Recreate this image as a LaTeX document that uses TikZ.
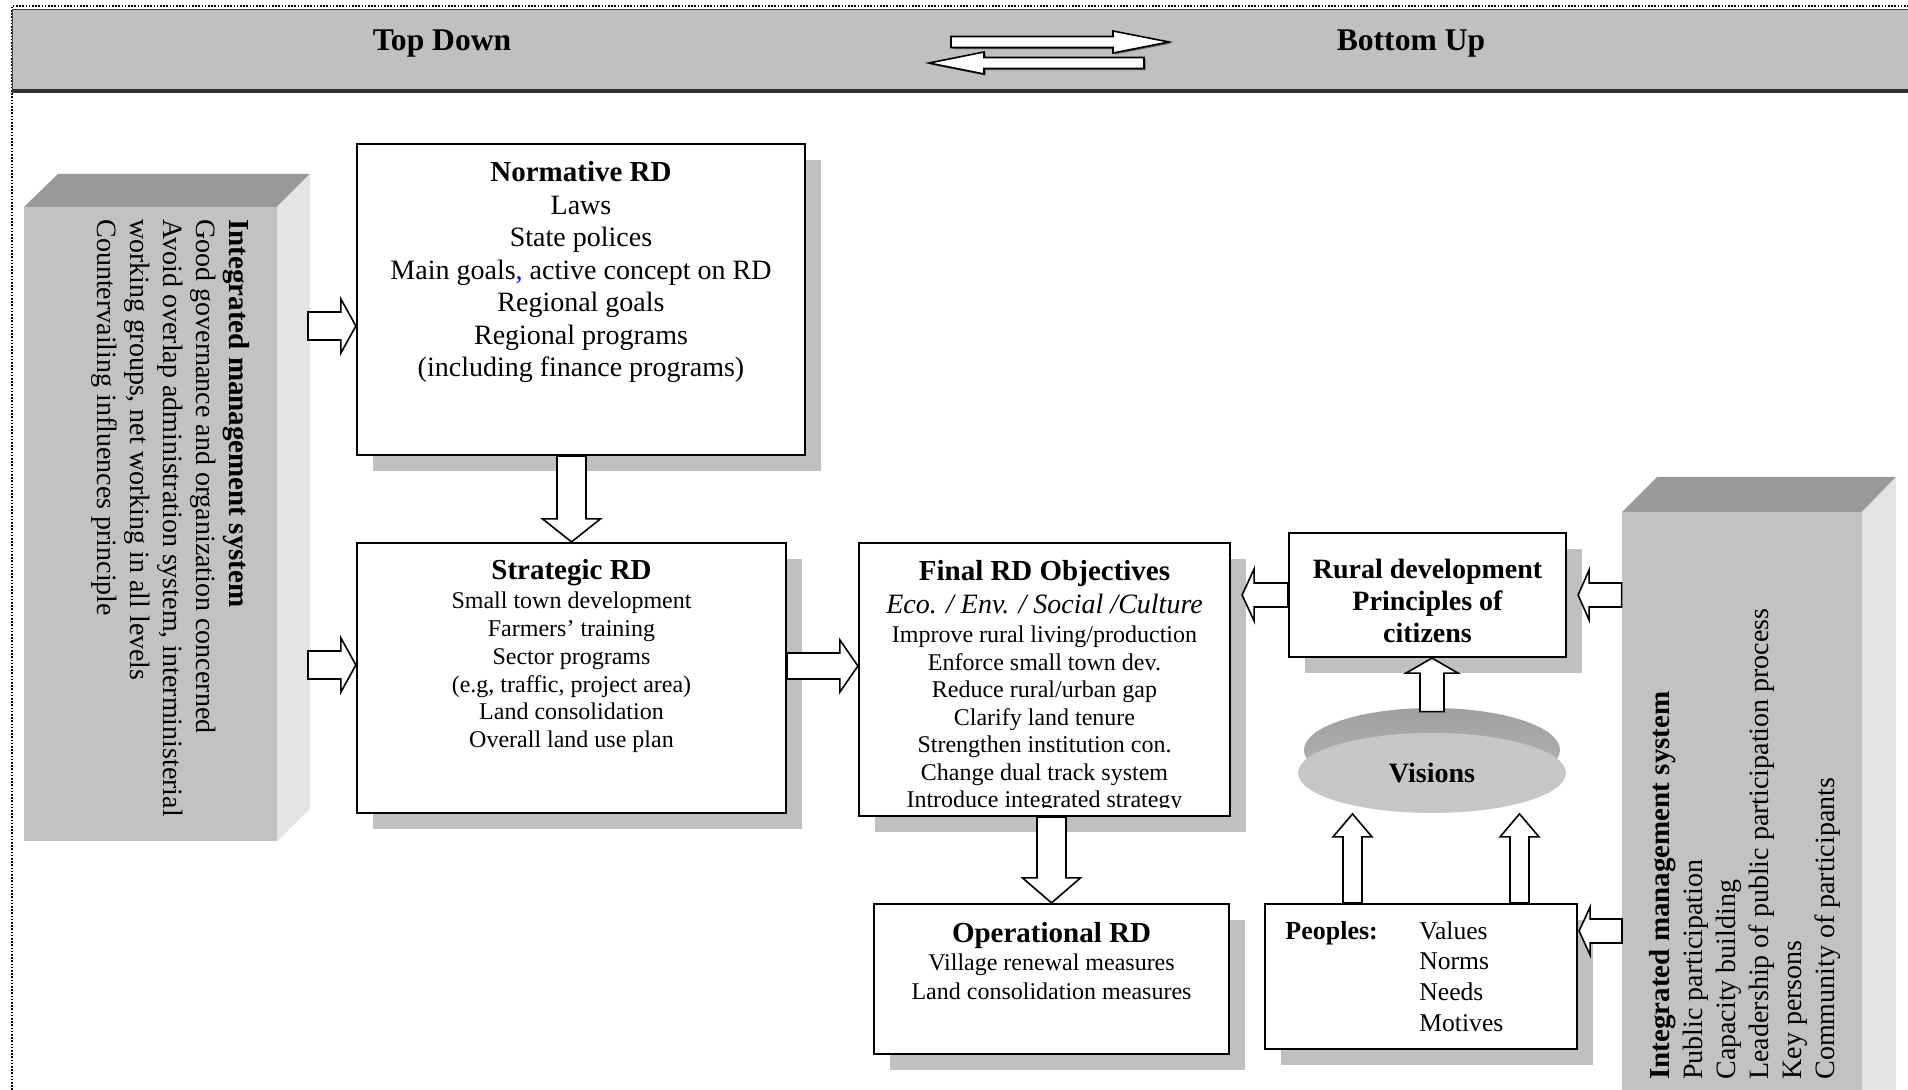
\documentclass[tikz,border=0pt]{standalone}
\usepackage{fontspec}
\setmainfont{Liberation Serif}
\usetikzlibrary{calc,shapes.geometric,shadows}

\definecolor{bandgray}{HTML}{C0C0C0}
\definecolor{shadowgray}{HTML}{C0C0C0}
\definecolor{frontgray}{HTML}{C2C2C2}
\definecolor{topgray}{HTML}{999999}
\definecolor{sidegray}{HTML}{E3E3E3}
\definecolor{rimdark}{HTML}{A0A0A0}
\definecolor{rimlight}{HTML}{B6B6B6}
\definecolor{discface}{HTML}{C7C7C7}

\tikzset{
  rdbox/.style={draw=black, line width=1.1pt, fill=white, inner sep=0pt,
    drop shadow={shadow xshift=8pt, shadow yshift=-8pt, fill=shadowgray, opacity=1}},
  barrow/.style={draw=black, line width=0.8pt, fill=white, line join=miter, miter limit=20},
  hdrshadow/.style={drop shadow={shadow xshift=0.8pt, shadow yshift=-0.8pt, fill=black!60, opacity=1}},
  boxtext/.style={anchor=north, align=center, inner sep=0pt},
  sidetext/.style={align=left, inner sep=0pt, font=\fontsize{14}{16.5}\selectfont},
  facebox/.style={fill=frontgray, inner sep=0pt},
}

% block arrow: [style]{from}{to}{dx}{dy}{body half width}{head half width}{head length}
\newcommand\blockarrow[8][]{%
  \draw[barrow,#1]
    ($(#2)+({-(#6)*(#5)},{(#6)*(#4)})$) --
    ($(#3)+({-(#8)*(#4)-(#6)*(#5)},{-(#8)*(#5)+(#6)*(#4)})$) --
    ($(#3)+({-(#8)*(#4)-(#7)*(#5)},{-(#8)*(#5)+(#7)*(#4)})$) --
    (#3) --
    ($(#3)+({-(#8)*(#4)+(#7)*(#5)},{-(#8)*(#5)-(#7)*(#4)})$) --
    ($(#3)+({-(#8)*(#4)+(#6)*(#5)},{-(#8)*(#5)-(#6)*(#4)})$) --
    ($(#2)+({(#6)*(#5)},{-(#6)*(#4)})$) -- cycle;}

\begin{document}
\begin{tikzpicture}[x=0.5pt, y=-0.5pt]
\useasboundingbox (0,0) rectangle (1908,1090);
\fill[white] (0,0) rectangle (1908,1090);

% dotted page frame
\draw[line width=0.7pt, dash pattern=on 0.8pt off 0.8pt] (12,1090) -- (12,6) -- (1908,6);

% header band
\fill[bandgray] (12,10) rectangle (1908,91);
\draw[line width=0.5pt, black!75] (12,91) -- (12,10) -- (1908,10);
\draw[line width=1.6pt, black!80] (12,91) -- (1908,91);
\node[font=\fontsize{15.8}{18}\selectfont\bfseries] (topdown) at (442,44) {Top Down};
\node[font=\fontsize{15.8}{18}\selectfont\bfseries] (bottomup) at (1411,44) {Bottom Up};
\coordinate (tdA) at (951,42);  \coordinate (tdB) at (1169,42);
\coordinate (buA) at (1144,63); \coordinate (buB) at (929,63);
\blockarrow[hdrshadow]{tdA}{tdB}{1}{0}{5.5}{11}{56}
\blockarrow[hdrshadow]{buA}{buB}{-1}{0}{5.5}{11}{55}

% left management block
\fill[topgray] (24,207) -- (58,174) -- (310,174) -- (277,207) -- cycle;
\fill[sidegray] (277,207) -- (310,174) -- (310,809) -- (277,841) -- cycle;
\node[facebox, minimum width=126.5pt, minimum height=317pt] (lbox) at (150.5,524) {};
\node[sidetext, rotate=-90, anchor=north west] (ltext) at (250,219)
  {{\fontsize{14.5}{16.5}\selectfont\bfseries Integrated management system}\\
   Good governance and organization concerned\\
   Avoid overlap administration system, interministerial\\
   working groups, net working in all levels\\
   Countervailing influences principle};

% right management block
\fill[topgray] (1622,512) -- (1657,477) -- (1896,477) -- (1862,512) -- cycle;
\fill[sidegray] (1862,512) -- (1896,477) -- (1896,1090) -- (1862,1090) -- cycle;
\node[facebox, minimum width=120pt, minimum height=289pt] (rbox) at (1742,801) {};
\node[sidetext, rotate=90, anchor=north west] (rtext) at (1649,1080)
  {{\fontsize{14.5}{16.5}\selectfont\bfseries Integrated management system}\\
   Public participation\\
   Capacity building\\
   Leadership of public participation process\\
   Key persons\\
   Community of participants};

% boxes
\node[rdbox, minimum width=224pt, minimum height=155.5pt] (norm) at (581,299.5) {};
\node[rdbox, minimum width=214.5pt, minimum height=135pt] (strat) at (571.5,678) {};
\node[rdbox, minimum width=185.5pt, minimum height=136.5pt] (final) at (1044.5,679.5) {};
\node[rdbox, minimum width=177.5pt, minimum height=75pt] (oper) at (1051.5,979) {};
\node[rdbox, minimum width=138.5pt, minimum height=62pt] (rural) at (1427.5,595) {};
\node[rdbox, minimum width=156pt, minimum height=72.5pt] (peop) at (1421,976.5) {};

% box texts
\node[boxtext, font=\fontsize{14}{16.25}\selectfont] (normtext) at (581,161)
  {{\fontsize{14.5}{16.25}\selectfont\bfseries Normative RD}\\
   Laws\\
   State polices\\
   Main goals\textcolor{blue}{,} active concept on RD\\
   Regional goals\\
   Regional programs\\
   (including finance programs)};

\node[boxtext, font=\fontsize{12}{13.9}\selectfont] (strattext) at (571.5,559)
  {{\fontsize{14.5}{16}\selectfont\bfseries Strategic RD}\\[0.7pt]
   Small town development\\
   Farmers’ training\\
   Sector programs\\
   (e.g, traffic, project area)\\
   Land consolidation\\
   Overall land use plan};

\begin{scope}
  \clip (final.north west) rectangle ($(final.south east)+(0,-10)$);
  \node[boxtext, font=\fontsize{12}{13.75}\selectfont] (finaltext) at (1044.5,560)
    {{\fontsize{14.5}{16}\selectfont\bfseries Final RD Objectives}\\[2.5pt]
     {\fontsize{14}{16}\selectfont\itshape Eco. / Env. / Social /Culture}\\[1pt]
     Improve rural living/production\\
     Enforce small town dev.\\
     Reduce rural/urban gap\\
     Clarify land tenure\\
     Strengthen institution con.\\
     Change dual track system\\
     Introduce integrated strategy};
\end{scope}

\node[boxtext, font=\fontsize{12}{14.75}\selectfont] (opertext) at (1051.5,922)
  {{\fontsize{14.5}{16}\selectfont\bfseries Operational RD}\\[-1pt]
   Village renewal measures\\
   Land consolidation measures};

\node[boxtext, font=\fontsize{14}{16}\selectfont\bfseries] (ruraltext) at (1427.5,559)
  {Rural development\\ Principles of\\ citizens};

\node[anchor=north west, inner sep=0pt, font=\fontsize{13}{15.4}\selectfont\bfseries] (peoplabel) at (1285,921) {Peoples:};
\node[anchor=north west, align=left, inner sep=0pt, font=\fontsize{12.8}{15.4}\selectfont] (peoplist) at (1419,921)
  {Values\\ Norms\\ Needs\\ Motives};

% visions disc: bevelled upper rim, then the flat face
\shade[top color=rimdark, bottom color=rimlight] (1432,750) ellipse [x radius=128, y radius=42];
\node[ellipse, fill=discface, inner sep=0pt, minimum width=134pt, minimum height=40pt,
      font=\fontsize{14}{16}\selectfont\bfseries] (vis) at (1432,773) {Visions};

% connectors
\coordinate (lin1) at (308,326);
\blockarrow{lin1}{lin1 -| norm.west}{1}{0}{14}{27}{15}
\coordinate (lin2) at (308,665);
\blockarrow{lin2}{lin2 -| strat.west}{1}{0}{14}{27}{15}
\coordinate (n2s) at (strat.north |- norm.south);
\blockarrow{n2s}{strat.north}{0}{1}{14.5}{29}{23}
\coordinate (s2f) at ($(strat.east)+(0,-12)$);
\blockarrow{s2f}{s2f -| final.west}{1}{0}{13}{26}{18}
\coordinate (f2o) at (oper.north |- final.south);
\blockarrow{f2o}{oper.north}{0}{1}{14.5}{29}{25}
\coordinate (r2f) at ($(rural.west -| final.east)+(11,0)$);
\blockarrow{rural.west}{r2f}{-1}{0}{12}{26}{12}
\coordinate (rb2r) at (rbox.west |- rural.east);
\coordinate (rb2rend) at ($(rural.east)+(11,0)$);
\blockarrow{rb2r}{rb2rend}{-1}{0}{12}{25}{11}
\coordinate (v2r) at ($(vis.north)+(0,-21)$);
\blockarrow{v2r}{v2r |- rural.south}{0}{-1}{12}{26}{15}
\coordinate (p2vL) at ($(peop.north)+(-68.5,0)$);
\coordinate (p2vLend) at ($(p2vL)+(0,-89)$);
\blockarrow{p2vL}{p2vLend}{0}{-1}{9.5}{19.5}{23}
\coordinate (p2vR) at ($(peop.north)+(98.5,0)$);
\coordinate (p2vRend) at ($(p2vR)+(0,-89)$);
\blockarrow{p2vR}{p2vRend}{0}{-1}{9.5}{19.5}{23}
\coordinate (rb2p) at (1622,931);
\coordinate (rb2pend) at ($(peop.east |- rb2p)+(1,0)$);
\blockarrow{rb2p}{rb2pend}{-1}{0}{12}{24}{11}
\end{tikzpicture}
\end{document}
